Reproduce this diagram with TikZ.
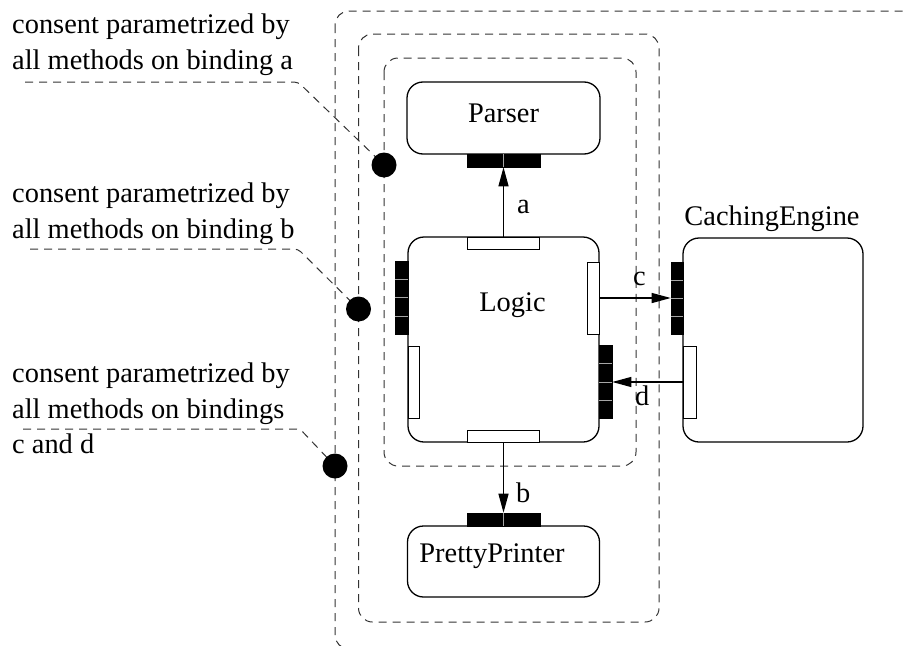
\documentclass[tikz,border=0pt]{standalone}
\usepackage{fontspec}
\setmainfont{Liberation Serif}
\usetikzlibrary{arrows.meta,calc}

\begin{document}
\begin{tikzpicture}[x=1pt,y=-1pt,
  comp/.style={draw, line width=1.3pt, rounded corners=16pt, inner sep=0pt},
  blackport/.style={fill=black, draw=black, line width=0.6pt, inner sep=0pt},
  whiteport/.style={fill=white, draw=black, line width=1pt, inner sep=0pt},
  divider/.style={draw=gray!70, line width=0.5pt},
  scopebox/.style={draw=black!80, dash pattern=on 8pt off 6pt, line width=1pt, rounded corners=14pt},
  leader/.style={draw=black!80, dash pattern=on 8pt off 6pt, line width=1pt, rounded corners=4pt},
  conn/.style={draw, line width=1.2pt, -{Triangle[length=19pt,width=10pt]}},
  dot/.style={circle, fill=black, minimum size=25pt, inner sep=0pt},
  txt/.style={font=\fontsize{28.4}{35.5}\selectfont, inner sep=0pt},
]
\useasboundingbox (0,0) rectangle (904,645);
\clip (0,0) rectangle (904,645);

% nested consent scopes
\draw[scopebox] (384,58) rectangle (636,466);
\draw[scopebox] (358.5,34) rectangle (659,622);
\draw[scopebox] (335,11) rectangle (935,649);

% components
\node[comp, minimum width=193pt, minimum height=72pt] (parser) at (503.5,118) {};
\node[comp, minimum width=191pt, minimum height=205pt] (logic) at (503.5,339.5) {};
\node[comp, minimum width=180pt, minimum height=204pt] (cache) at (773,340) {};
\node[comp, minimum width=192pt, minimum height=71pt] (printer) at (503.5,561.5) {};

\node[txt, anchor=base] (parserlbl) at (503.5,122) {Parser};
\node[txt, anchor=base] (logiclbl) at (512.5,311) {Logic};
\node[txt, anchor=base] (printerlbl) at (492,562) {PrettyPrinter};
\node[txt, anchor=base] (cachelbl) at (772,225) {CachingEngine};

% ports
\node[blackport, minimum width=73pt, minimum height=13pt] (pa) at (503.5,160.5) {};
\node[blackport, minimum width=73pt, minimum height=13pt] (pb) at (503.5,519.5) {};
\node[whiteport, minimum width=72pt, minimum height=12pt] (lt) at (503.5,243) {};
\node[whiteport, minimum width=72pt, minimum height=12pt] (lb) at (503.5,436) {};
\node[blackport, minimum width=13pt, minimum height=73pt] (ll) at (401.5,297.5) {};
\node[whiteport, minimum width=11pt, minimum height=72pt] (llw) at (413.5,382) {};
\node[whiteport, minimum width=12pt, minimum height=72pt] (lr) at (593,298) {};
\node[blackport, minimum width=13pt, minimum height=73pt] (lrb) at (605.5,382) {};
\node[blackport, minimum width=12pt, minimum height=72pt] (cb) at (677,298) {};
\node[whiteport, minimum width=13pt, minimum height=72pt] (cw) at (689.5,382) {};

% port subdivisions
\foreach \p in {pa,pb}
  \draw[divider] (\p.north) -- (\p.south);
\foreach \p in {ll,lrb,cb}
  \foreach \f in {0.25,0.5,0.75}
    \draw[divider] ($(\p.north west)!\f!(\p.south west)$) -- ($(\p.north east)!\f!(\p.south east)$);

% bindings
\draw[conn] (lt.north) -- (pa.south);
\draw[conn] (lb.south) -- (pb.north);
\draw[conn] (lr.east) -- (cb.west);
\draw[conn] (cw.west) -- (lrb.east);

\node[txt, anchor=base west] (bla) at (517,213) {a};
\node[txt, anchor=base west] (blb) at (516,502) {b};
\node[txt, anchor=base west] (blc) at (633,285) {c};
\node[txt, anchor=base west] (bld) at (635,405) {d};

% consent annotations
\node[txt, anchor=base west] (ta1) at (12,33) {consent parametrized by};
\node[txt, anchor=base west] (ta2) at (12,69) {all methods on binding a};
\node[txt, anchor=base west] (tb1) at (12,202) {consent parametrized by};
\node[txt, anchor=base west] (tb2) at (12,238) {all methods on binding b};
\node[txt, anchor=base west] (tc1) at (12,382) {consent parametrized by};
\node[txt, anchor=base west] (tc2) at (12,418) {all methods on bindings};
\node[txt, anchor=base west] (tc3) at (12,453) {c and d};

\coordinate (la0) at (25,82);  \coordinate (la1) at (298,82);
\coordinate (lb0) at (30,249); \coordinate (lb1) at (298,249);
\coordinate (lc0) at (23,429); \coordinate (lc1) at (300,429);
\coordinate (pda) at (384,165);
\coordinate (pdb) at (358.5,309);
\coordinate (pdc) at (335,466);

\draw[leader] (la0) -- (la1) -- (pda);
\draw[leader] (lb0) -- (lb1) -- (pdb);
\draw[leader] (lc0) -- (lc1) -- (pdc);

\node[dot] (da) at (pda) {};
\node[dot] (db) at (pdb) {};
\node[dot] (dc) at (pdc) {};
\end{tikzpicture}
\end{document}
